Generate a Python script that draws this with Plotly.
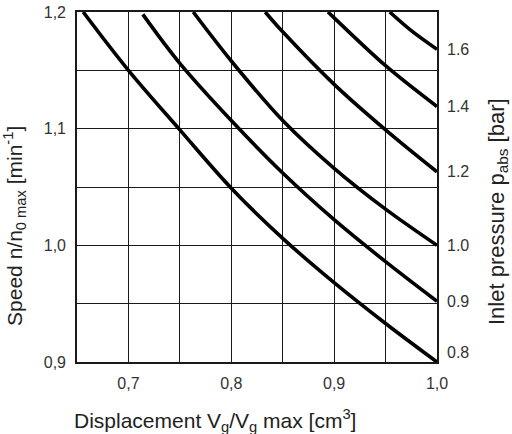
import plotly.graph_objects as go

# ---- data ----
x_tickvals = [0.7, 0.8, 0.9, 1.0]
x_ticktext = ["0,7", "0,8", "0,9", "1,0"]
y_tickvals = [0.9, 1.0, 1.1, 1.2]
y_ticktext = ["0,9", "1,0", "1,1", "1,2"]

pressure_labels = ["0.8", "0.9", "1.0", "1.2", "1.4", "1.6"]

v_p08 = [0.656, 0.70, 0.75, 0.80, 0.85, 0.90, 0.95, 1.00]
n_p08 = [1.200, 1.150, 1.099, 1.049, 1.006, 0.968, 0.933, 0.900]

v_p09 = [0.714, 0.75, 0.80, 0.85, 0.90, 0.95, 1.00]
n_p09 = [1.198, 1.156, 1.107, 1.062, 1.022, 0.986, 0.952]

v_p10 = [0.763, 0.80, 0.85, 0.90, 0.95, 1.00]
n_p10 = [1.200, 1.158, 1.107, 1.066, 1.031, 1.000]

v_p12 = [0.833, 0.85, 0.90, 0.95, 1.00]
n_p12 = [1.200, 1.183, 1.138, 1.099, 1.063]

v_p14 = [0.894, 0.90, 0.95, 1.00]
n_p14 = [1.200, 1.195, 1.154, 1.119]

v_p16 = [0.954, 0.975, 1.00]
n_p16 = [1.200, 1.184, 1.168]

curves = [(v_p08, n_p08), (v_p09, n_p09), (v_p10, n_p10),
          (v_p12, n_p12), (v_p14, n_p14), (v_p16, n_p16)]

X_RANGE = [0.65, 1.0]
Y_RANGE = [0.9, 1.2]

fig = go.Figure()
for (v, n), lab in zip(curves, pressure_labels):
    fig.add_trace(go.Scatter(x=v, y=n, mode="lines", name=lab,
                             line=dict(color="black", width=3.6, shape="spline", smoothing=1.0),
                             hoverinfo="skip", showlegend=False))

# right-hand labels sit at the end of each curve (nudged inside the frame)
end_vals = [n[-1] for _, n in curves]
label_pos = [max(e, Y_RANGE[0] + 0.008) for e in end_vals]
fig.add_trace(go.Scatter(x=[1.0] * len(end_vals), y=end_vals, yaxis="y2", mode="lines",
                         line=dict(width=0, color="rgba(0,0,0,0)"),
                         hoverinfo="skip", showlegend=False))

FAMILY = "Liberation Sans, Arial, sans-serif"
tick_font = dict(family=FAMILY, size=16, color="#333333")
grid_col = "#1a1a1a"

fig.update_layout(
    width=512, height=434,
    margin=dict(l=77, r=75, t=12, b=72, autoexpand=False),
    paper_bgcolor="white", plot_bgcolor="white",
    xaxis=dict(range=X_RANGE, tickvals=x_tickvals, ticktext=x_ticktext, automargin=False,
               showgrid=True, gridcolor=grid_col, gridwidth=1.4,
               minor=dict(dtick=0.05, tick0=0.65, showgrid=True, gridcolor=grid_col, gridwidth=1.4),
               showline=True, linecolor=grid_col, linewidth=1.6, mirror=True,
               ticks="", tickfont=tick_font, ticklabelstandoff=6, zeroline=False),
    yaxis=dict(range=Y_RANGE, tickvals=y_tickvals, ticktext=y_ticktext, automargin=False,
               showgrid=True, gridcolor=grid_col, gridwidth=1.4,
               minor=dict(dtick=0.05, tick0=0.9, showgrid=True, gridcolor=grid_col, gridwidth=1.4),
               showline=True, linecolor=grid_col, linewidth=1.6, mirror=True,
               ticks="", tickfont=tick_font, ticklabelstandoff=6, zeroline=False),
    yaxis2=dict(range=Y_RANGE, overlaying="y", side="right", automargin=False,
                tickvals=label_pos, ticktext=pressure_labels,
                showgrid=False, showline=False, zeroline=False, ticks="",
                tickfont=tick_font, ticklabelstandoff=9),
    annotations=[
        dict(text="Displacement V<sub>g</sub>/V<sub>g</sub> max [cm<sup>3</sup>]",
             xref="paper", yref="paper", x=0.383, y=-0.166, xanchor="center", yanchor="middle",
             showarrow=False, font=dict(family=FAMILY, size=21, color="#222222")),
        dict(text="Speed n/n<sub>0 max</sub> [min<sup>-1</sup>]",
             xref="paper", yref="paper", x=-0.172, y=0.389, xanchor="center", yanchor="middle",
             textangle=-90, showarrow=False, font=dict(family=FAMILY, size=21, color="#222222")),
        dict(text="Inlet pressure p<sub>abs</sub> [bar]",
             xref="paper", yref="paper", x=1.169, y=0.431, xanchor="center", yanchor="middle",
             textangle=-90, showarrow=False, font=dict(family=FAMILY, size=22, color="#222222")),
    ],
)

fig.write_html("out.html", config={"displayModeBar": False},
               post_script="document.body.style.margin='0';")
